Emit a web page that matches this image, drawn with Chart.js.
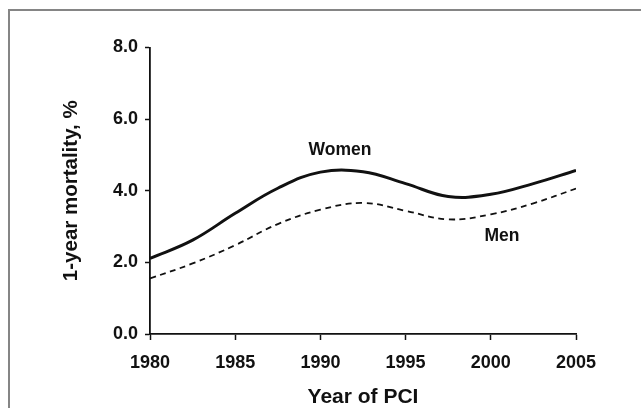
<!DOCTYPE html>
<html>
<head>
<meta charset="utf-8">
<script src="https://cdn.jsdelivr.net/npm/chart.js@4/dist/chart.umd.min.js"></script>
<style>
  body { margin: 0; background: #fff; }
  #wrap { position: relative; width: 641px; height: 408px; }
  #frame { position: absolute; left: 8px; top: 9px; right: 0; bottom: 0; border-top: 2px solid #858585; border-left: 2px solid #858585; }
  canvas { position: absolute; left: 0; top: 0; }
</style>
</head>
<body>
<div id="wrap">
  <div id="frame"></div>
  <canvas id="mortalityChart" width="641" height="408"></canvas>
</div>
<script>
// values, every 2.5 years
const years = [1980, 1982.5, 1985, 1987.5, 1990, 1992.5, 1995, 1997.5, 2000, 2002.5, 2005];
const womenValues = [2.11, 2.62, 3.37, 4.07, 4.52, 4.53, 4.2, 3.84, 3.9, 4.2, 4.57];
const menValues = [1.55, 1.97, 2.48, 3.07, 3.47, 3.66, 3.44, 3.2, 3.34, 3.65, 4.06];
const xTicks = [1980, 1985, 1990, 1995, 2000, 2005];
const yTicks = [0, 2, 4, 6, 8];

// series labels placed in data units
const seriesLabels = [
  { text: 'Women', x: 1991.15, y: 5.13 },
  { text: 'Men', x: 2000.65, y: 2.74 }
];

const fontFamily = '"Liberation Sans", Arial, sans-serif';
const ink = '#111';

const toPoints = (xs, ys) => xs.map((x, i) => ({ x: x, y: ys[i] }));

// draws the Women / Men text next to the curves
const seriesLabelPlugin = {
  id: 'seriesLabels',
  afterDatasetsDraw(chart) {
    const ctx = chart.ctx;
    const xs = chart.scales.x;
    const ys = chart.scales.y;
    ctx.save();
    ctx.font = 'bold 17.5px ' + fontFamily;
    ctx.fillStyle = ink;
    ctx.textAlign = 'center';
    ctx.textBaseline = 'middle';
    seriesLabels.forEach(l => {
      ctx.fillText(l.text, xs.getPixelForValue(l.x), ys.getPixelForValue(l.y));
    });
    ctx.restore();
  }
};

new Chart(document.getElementById('mortalityChart'), {
  type: 'line',
  data: {
    datasets: [
      {
        label: 'Women',
        data: toPoints(years, womenValues),
        borderColor: ink,
        borderWidth: 3,
        pointRadius: 0,
        fill: false,
        tension: 0.4
      },
      {
        label: 'Men',
        data: toPoints(years, menValues),
        borderColor: ink,
        borderWidth: 1.8,
        borderDash: [6, 4.5],
        pointRadius: 0,
        fill: false,
        tension: 0.4
      }
    ]
  },
  options: {
    responsive: false,
    animation: false,
    layout: { padding: { top: 47.5, right: 65, bottom: 0, left: 0 } },
    plugins: {
      legend: { display: false },
      tooltip: { enabled: false }
    },
    scales: {
      x: {
        type: 'linear',
        min: 1980,
        max: 2005,
        afterFit(scale) { scale.height = 74; },
        afterBuildTicks(scale) { scale.ticks = xTicks.map(v => ({ value: v })); },
        ticks: {
          callback: v => String(v),
          color: ink,
          padding: 12,
          maxRotation: 0,
          font: { family: fontFamily, size: 18, weight: 'bold' }
        },
        grid: { drawOnChartArea: false, tickLength: 6, color: ink, tickWidth: 1.5 },
        border: { color: ink, width: 1.8 },
        title: {
          display: true,
          text: 'Year of PCI',
          color: ink,
          padding: { top: 0, bottom: 0 },
          font: { family: fontFamily, size: 21, weight: 'bold', lineHeight: 1 }
        }
      },
      y: {
        min: 0,
        max: 8,
        afterFit(scale) { scale.width = 150; },
        afterBuildTicks(scale) { scale.ticks = yTicks.map(v => ({ value: v })); },
        ticks: {
          callback: v => v.toFixed(1),
          color: ink,
          padding: 7,
          font: { family: fontFamily, size: 18, weight: 'bold' }
        },
        grid: { drawOnChartArea: false, tickLength: 5, color: ink, tickWidth: 1.5 },
        border: { color: ink, width: 1.8 },
        title: {
          display: true,
          text: '1-year mortality, %',
          color: ink,
          padding: { top: 59.5, bottom: 0 },
          font: { family: fontFamily, size: 20.5, weight: 'bold', lineHeight: 1.2 }
        }
      }
    }
  },
  plugins: [seriesLabelPlugin]
});
</script>
</body>
</html>
